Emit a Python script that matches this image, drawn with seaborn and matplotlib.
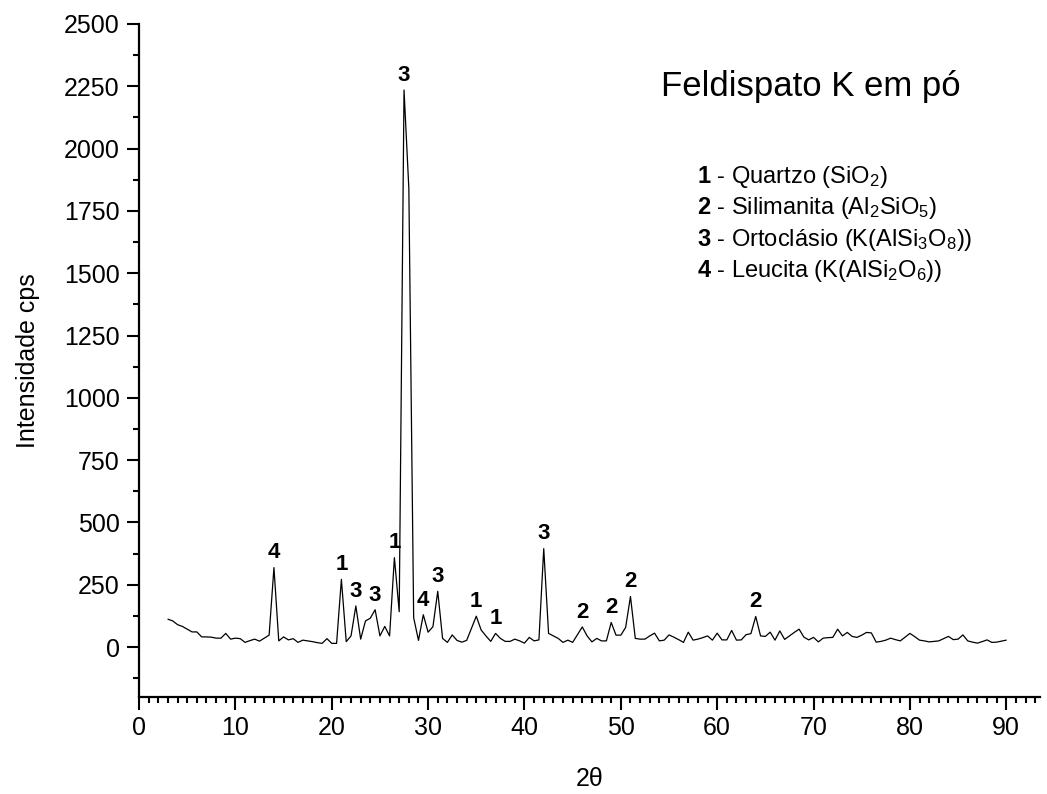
import matplotlib
matplotlib.use("Agg")
import matplotlib.pyplot as plt
from matplotlib.ticker import MultipleLocator
import seaborn as sns
import pandas as pd

# Difratograma de raios X do feldspato potássico em pó (passo de 0,5°)
two_theta = [
    3.0, 3.5, 4.0, 4.5, 5.0, 5.5, 6.0, 6.5, 7.0, 7.5, 8.0, 8.5, 9.0, 9.5, 10.0,
    10.5, 11.0, 11.5, 12.0, 12.5, 13.0, 13.5, 14.0, 14.5, 15.0, 15.5, 16.0, 16.5,
    17.0, 17.5, 18.0, 18.5, 19.0, 19.5, 20.0, 20.5, 21.0, 21.5, 22.0, 22.5, 23.0,
    23.5, 24.0, 24.5, 25.0, 25.5, 26.0, 26.5, 27.0, 27.5, 28.0, 28.5, 29.0, 29.5,
    30.0, 30.5, 31.0, 31.5, 32.0, 32.5, 33.0, 33.5, 34.0, 34.5, 35.0, 35.5, 36.0,
    36.5, 37.0, 37.5, 38.0, 38.5, 39.0, 39.5, 40.0, 40.5, 41.0, 41.5, 42.0, 42.5,
    43.0, 43.5, 44.0, 44.5, 45.0, 45.5, 46.0, 46.5, 47.0, 47.5, 48.0, 48.5, 49.0,
    49.5, 50.0, 50.5, 51.0, 51.5, 52.0, 52.5, 53.0, 53.5, 54.0, 54.5, 55.0, 55.5,
    56.0, 56.5, 57.0, 57.5, 58.0, 58.5, 59.0, 59.5, 60.0, 60.5, 61.0, 61.5, 62.0,
    62.5, 63.0, 63.5, 64.0, 64.5, 65.0, 65.5, 66.0, 66.5, 67.0, 67.5, 68.0, 68.5,
    69.0, 69.5, 70.0, 70.5, 71.0, 71.5, 72.0, 72.5, 73.0, 73.5, 74.0, 74.5, 75.0,
    75.5, 76.0, 76.5, 77.0, 77.5, 78.0, 78.5, 79.0, 79.5, 80.0, 80.5, 81.0, 81.5,
    82.0, 82.5, 83.0, 83.5, 84.0, 84.5, 85.0, 85.5, 86.0, 86.5, 87.0, 87.5, 88.0,
    88.5, 89.0, 89.5, 90.0,
]
intensity = [
    112, 105, 90, 83, 72, 61, 61, 41, 41, 40, 36, 36, 55, 32, 36,
    34, 19, 26, 32, 24, 36, 48, 319, 25, 41, 29, 34, 19,
    28, 25, 22, 18, 15, 34, 15, 15, 272, 22, 45, 165, 32,
    105, 116, 150, 45, 83, 45, 359, 142, 2235, 1840, 118, 27, 130,
    60, 82, 224, 35, 19, 49, 27, 20, 27, 75, 124, 69, 45,
    23, 55, 35, 23, 23, 32, 25, 16, 39, 25, 29, 395, 55,
    45, 35, 19, 28, 19, 50, 81, 45, 21, 35, 25, 25, 99,
    48, 48, 79, 203, 35, 32, 32, 45, 56, 25, 28, 49, 40,
    30, 19, 60, 28, 32, 38, 45, 28, 56, 29, 29, 67, 28,
    29, 50, 54, 123, 45, 43, 60, 28, 65, 31, 45, 59, 72,
    40, 29, 39, 21, 36, 38, 39, 72, 45, 59, 43, 39, 48,
    59, 57, 20, 23, 28, 36, 30, 25, 40, 55, 42, 28, 25,
    21, 23, 25, 34, 43, 30, 32, 49, 25, 20, 16, 22, 29,
    19, 20, 24, 28,
]

# Picos identificados: posição 2θ e fase correspondente
peak_pos = [14.0, 21.0, 22.5, 24.5, 26.5, 27.5, 29.5, 31.0, 35.0, 37.0,
            42.0, 46.0, 49.0, 51.0, 64.0]
peak_phase = ["4", "1", "3", "3", "1", "3", "4", "3", "1", "1",
              "3", "2", "2", "2", "2"]

phase_legend = [
    r"$\mathbf{1}$ - Quartzo (SiO$_{2}$)",
    r"$\mathbf{2}$ - Silimanita (Al$_{2}$SiO$_{5}$)",
    r"$\mathbf{3}$ - Ortoclásio (K(AlSi$_{3}$O$_{8}$))",
    r"$\mathbf{4}$ - Leucita (K(AlSi$_{2}$O$_{6}$))",
]
title_text = "Feldispato K em pó"

sns.set_theme(style="ticks")
plt.rcParams["font.family"] = ["Liberation Sans", "DejaVu Sans"]
plt.rcParams["mathtext.fontset"] = "custom"
plt.rcParams["mathtext.rm"] = "Liberation Sans"
plt.rcParams["mathtext.it"] = "Liberation Sans:italic"
plt.rcParams["mathtext.bf"] = "Liberation Sans:bold"
plt.rcParams["text.color"] = "black"
plt.rcParams["axes.labelcolor"] = "black"

df = pd.DataFrame({"2theta": two_theta, "I": intensity})

fig = plt.figure(figsize=(10.47, 7.94), dpi=100)
ax = fig.add_axes([0.1328, 0.1222, 0.8605, 0.8476])

sns.lineplot(data=df, x="2theta", y="I", ax=ax, color="black", linewidth=0.9)

# Rótulos das fases sobre os picos
lookup = dict(zip(two_theta, intensity))
for pos, ph in zip(peak_pos, peak_phase):
    ax.annotate(ph, xy=(pos, lookup[pos]), xytext=(0, 3),
                textcoords="offset points", ha="center", va="bottom",
                fontsize=16, fontweight="bold", color="black")

ax.set_xlim(0, 93.5)
ax.set_ylim(-200, 2500)
ax.xaxis.set_major_locator(MultipleLocator(10))
ax.xaxis.set_minor_locator(MultipleLocator(1))
ax.yaxis.set_major_locator(MultipleLocator(250))
ax.yaxis.set_minor_locator(MultipleLocator(125))

for side in ("top", "right"):
    ax.spines[side].set_visible(False)
for side in ("left", "bottom"):
    ax.spines[side].set_linewidth(1.6)
    ax.spines[side].set_color("black")

ax.tick_params(which="major", direction="out", length=9, width=1.5,
               labelsize=18, colors="black", pad=5)
ax.tick_params(which="minor", direction="out", length=4.5, width=1.5,
               colors="black")

ax.set_xlabel("2θ", fontsize=18, labelpad=19)
ax.set_ylabel("Intensidade cps", fontsize=18, labelpad=17)

fig.text(0.631, 0.891, title_text, fontsize=25, ha="left", va="center")
for i, line in enumerate(phase_legend):
    fig.text(0.6657, 1 - (177 + 31.3 * i) / 794, line, fontsize=17,
             ha="left", va="center")

fig.savefig("out.png", dpi=100, facecolor="white")
